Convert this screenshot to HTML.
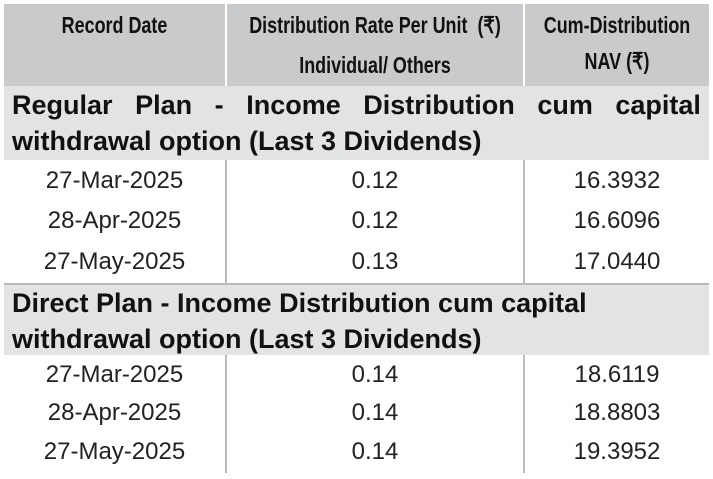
<!DOCTYPE html>
<html><head><meta charset="utf-8">
<style>
body{margin:0;width:713px;height:479px;background:#fff;position:relative;overflow:hidden;font-family:"Liberation Sans",sans-serif;}
div{position:absolute;box-sizing:border-box;}
.hd{background:#c9cacc;top:4px;height:82px;}
.ht{font-weight:bold;font-size:23px;color:#111;text-align:center;line-height:36px;white-space:nowrap;transform:scaleX(0.78);}
.sec{left:4px;width:705px;background:#e2e3e5;color:#111;font-weight:bold;font-size:27px;line-height:36px;padding:0 8px;white-space:nowrap;}
.c{font-size:24px;color:#222;text-align:center;height:40px;line-height:40px;}
.v{background:#b9babc;width:2px;}
</style></head><body>
<div class="hd" style="left:4px;width:221px;"></div>
<div class="hd" style="left:227px;width:296px;"></div>
<div class="hd" style="left:525px;width:184px;"></div>
<div class="ht" style="left:4px;width:221px;top:7px;">Record Date</div>
<div class="ht" style="left:177px;width:396px;top:7px;">Distribution Rate Per Unit&nbsp; (₹)</div>
<div class="ht" style="left:227px;width:296px;top:47px;">Individual/ Others</div>
<div class="ht" style="left:495px;width:244px;top:7px;">Cum-Distribution</div>
<div class="ht" style="left:525px;width:184px;top:43px;">NAV (₹)</div>
<div class="sec" style="top:86px;height:74px;padding-top:1px;">
<div style="position:relative;display:flex;justify-content:space-between;width:689px;"><span>Regular</span><span>Plan</span><span>-</span><span>Income</span><span>Distribution</span><span>cum</span><span>capital</span></div>withdrawal option (Last 3 Dividends)</div>
<div class="sec" style="top:283px;height:72px;padding-top:0px;border-top:2px solid #b9babc;">Direct Plan - Income Distribution cum capital<br>withdrawal option (Last 3 Dividends)</div>
<div class="v" style="left:225px;top:160px;height:123px;"></div>
<div class="v" style="left:523px;top:160px;height:123px;"></div>
<div class="v" style="left:225px;top:355px;height:118px;"></div>
<div class="v" style="left:523px;top:355px;height:118px;"></div>
<script>
const dates=["27-Mar-2025","28-Apr-2025","27-May-2025","27-Mar-2025","28-Apr-2025","27-May-2025"];
const rates=["0.12","0.12","0.13","0.14","0.14","0.14"];
const navs=["16.3932","16.6096","17.0440","18.6119","18.8803","19.3952"];
const tops=[161,201,242,355,393,432];
dates.forEach((d,i)=>{
 [[d,4,221],[rates[i],227,296],[navs[i],525,184]].forEach((c,j)=>{
  const el=document.createElement('div');
  el.className='c';
  
  
  el.style.left=c[1]+'px';el.style.width=c[2]+'px';el.style.top=tops[i]+'px';
  el.textContent=c[0];
  document.body.appendChild(el);
 });
});
</script>
</body></html>
